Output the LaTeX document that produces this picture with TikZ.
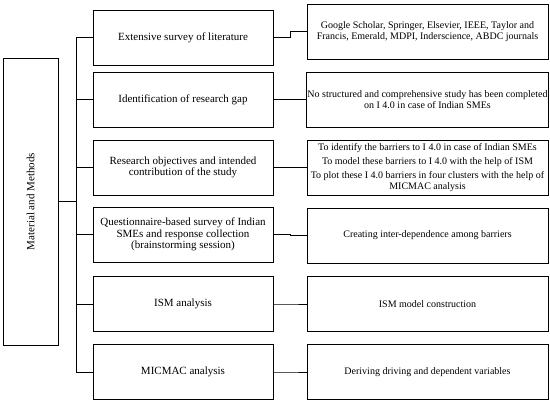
\documentclass[tikz,border=0pt]{standalone}
\usepackage{fontspec}
\setmainfont{Liberation Serif}
\usetikzlibrary{positioning}

\begin{document}
\begin{tikzpicture}[x=1pt,y=-1pt,line width=0.8pt,
    midbox/.style={draw, minimum width=180pt, minimum height=55pt, inner sep=1pt,
        align=center, font=\fontsize{11}{11.6}\selectfont},
    infobox/.style={draw, minimum width=241pt, minimum height=55pt, inner sep=1pt,
        align=center, font=\fontsize{10}{11.2}\selectfont}]
    \useasboundingbox (0,0) rectangle (550,403);
    % left box
    \node [draw, minimum width=55pt, minimum height=287pt, inner sep=0pt] (mm) at (30.5,201.5) {};
    \node [rotate=90, font=\fontsize{11}{12}\selectfont] at (mm.center) {Material and Methods};
    % middle column
    \node [midbox] (m1) at (183,37.5) {Extensive survey of literature};
    \node [midbox] (m2) at (183,99.5) {Identification of research gap};
    \node [midbox] (m3) at (183,167.5) {Research objectives and intended\\contribution of the study};
    \node [midbox] (m4) at (183,234.5) {Questionnaire-based survey of Indian\\SMEs and response collection\\(brainstorming session)};
    \node [midbox] (m5) at (183,304) {ISM analysis};
    \node [midbox] (m6) at (183,372) {MICMAC analysis};
    % right column
    \node [infobox] (r1) at (427.5,31.5) {Google Scholar, Springer, Elsevier, IEEE, Taylor and\\Francis, Emerald, MDPI, Inderscience, ABDC journals};
    \node [infobox] (r2) at (427.5,99.5) {No structured and comprehensive study has been completed\\on I 4.0 in case of Indian SMEs};
    \node [infobox] (r3) at (427.5,167.5) {To identify the barriers to I 4.0 in case of Indian SMEs\\[3pt]
        To model these barriers to I 4.0 with the help of ISM\\[2pt]
        To plot these I 4.0 barriers in four clusters with the help of\\MICMAC analysis};
    \node [infobox] (r4) at (427.5,235.5) {Creating inter-dependence among barriers};
    \node [infobox] (r5) at (427.5,304) {ISM model construction};
    \node [infobox] (r6) at (427.5,372) {Deriving driving and dependent variables};
    % connectors
    \draw (mm.east |- 0,201) -- ++(18,0) coordinate (trunk);
    \draw (trunk |- m1) -- (trunk |- m6);
    \foreach \i in {1,...,6} {
        \draw (trunk |- m\i) -- (m\i.west);
        \draw (m\i.east) -- ++(17,0) |- (r\i.west);
    }
\end{tikzpicture}
\end{document}
